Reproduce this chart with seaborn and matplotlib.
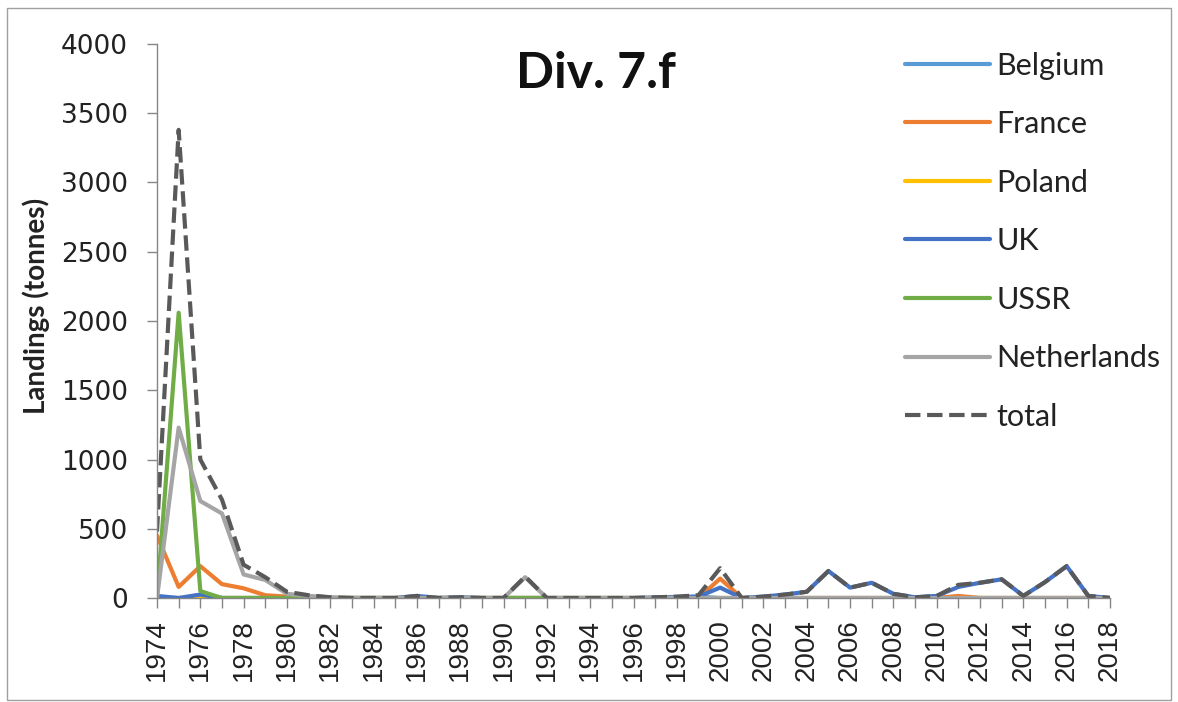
import matplotlib.pyplot as plt
import matplotlib.patches as patches
import seaborn as sns

# --- Data ---
YEARS = list(range(1974, 2019))

BELGIUM = [0, 0, 0, 0, 0, 0, 0, 0, 0, 0, 0, 0, 0, 0, 0, 0, 0, 0, 0, 0, 0, 0, 0,
           5, 8, 10, 0, 0, 0, 0, 0, 0, 0, 0, 0, 0, 0, 0, 0, 0, 0, 0, 0, 0, 0]
FRANCE = [450, 80, 230, 100, 70, 20, 10, 0, 0, 0, 0, 0, 0, 0, 0, 0, 0, 0, 0, 0, 0, 0, 0,
          0, 0, 0, 140, 0, 0, 0, 0, 0, 0, 0, 0, 0, 0, 15, 0, 0, 0, 0, 0, 0, 0]
POLAND = [0] * 45
UK = [15, 0, 25, 0, 0, 0, 0, 0, 0, 0, 0, 0, 15, 0, 5, 0, 0, 0, 0, 0, 0, 0, 0,
      0, 5, 10, 75, 0, 10, 25, 45, 195, 75, 110, 30, 5, 15, 80, 110, 135, 15, 115, 230, 15, 0]
USSR_YEARS = list(range(1974, 1993))
USSR = [0, 2060, 50, 0, 0, 0, 0, 0, 0, 0, 0, 0, 0, 0, 0, 0, 0, 0, 0]
NETHERLANDS = [0, 1230, 700, 610, 170, 130, 30, 15, 5, 0, 0, 0, 0, 0, 0, 0, 0, 150, 0, 0, 0, 0, 0,
               0, 0, 0, 0, 0, 0, 0, 0, 0, 0, 0, 0, 0, 0, 0, 0, 0, 0, 0, 0, 0, 0]
TOTAL = [480, 3380, 1000, 710, 240, 150, 45, 20, 5, 0, 0, 0, 15, 0, 5, 0, 0, 155, 0, 0, 0, 0, 0,
         5, 10, 20, 215, 0, 10, 25, 45, 195, 75, 110, 30, 5, 15, 95, 110, 135, 15, 115, 230, 15, 0]

SERIES = [
    ("Belgium", YEARS, BELGIUM, "#5B9BD5", "-"),
    ("France", YEARS, FRANCE, "#ED7D31", "-"),
    ("Poland", YEARS, POLAND, "#FFC000", "-"),
    ("UK", YEARS, UK, "#4472C4", "-"),
    ("USSR", USSR_YEARS, USSR, "#70AD47", "-"),
    ("Netherlands", YEARS, NETHERLANDS, "#A5A5A5", "-"),
    ("total", YEARS, TOTAL, "#595959", "--"),
]

# --- Plot ---
sns.set_style("white")
plt.rcParams['font.family'] = ['Lato', 'DejaVu Sans']

fig = plt.figure(figsize=(11.78, 7.02), dpi=100)
ax = fig.add_axes([157 / 1178, 1 - 598 / 702, (1110 - 157) / 1178, (598 - 44) / 702])

for name, xs, ys, color, ls in SERIES:
    sns.lineplot(x=xs, y=ys, color=color, linestyle=ls, linewidth=3, label=name, ax=ax)

ax.set_xlim(1974, 2018)
ax.set_ylim(0, 4000)

ax.set_xticks(range(1974, 2019, 2))
ax.set_xticks(range(1974, 2019), minor=True)
ax.set_xticklabels([str(y) for y in range(1974, 2019, 2)], rotation=90, fontsize=20,
                   color="#222222", family="Liberation Sans")
ax.set_yticks(range(0, 4001, 500))
ax.set_yticklabels([str(v) for v in range(0, 4001, 500)], fontsize=19, color="#222222",
                   family="DejaVu Sans")

ax.tick_params(axis="x", which="both", direction="out", length=7, width=1, color="#868686",
               bottom=True, pad=8)
ax.tick_params(axis="y", direction="out", length=7, width=1, color="#868686", left=True, pad=14)

for side in ["top", "right"]:
    ax.spines[side].set_visible(False)
for side in ["left", "bottom"]:
    ax.spines[side].set_color("#868686")
    ax.spines[side].set_linewidth(1)

ax.set_ylabel("Landings (tonnes)", fontsize=20, fontweight="bold", color="#222222")
ax.yaxis.set_label_coords((50 - 157) / 953, (598 - 306) / 554)
ax.set_xlabel("")

fig.text(596 / 1178, 1 - 73 / 702, "Div. 7.f", fontsize=36, fontweight="bold",
         ha="center", va="center", color="#111111")

leg = ax.legend(loc="upper left", bbox_to_anchor=(877 / 1178, 1 - 24 / 702),
                bbox_transform=fig.transFigure, frameon=False, fontsize=22,
                handlelength=2.8, handletextpad=0.2, labelspacing=1.0)
for t in leg.get_texts():
    t.set_color("#222222")

# thin frame around the whole picture
fig.patches.append(patches.Rectangle((7 / 1178, 2 / 702), 1164 / 1178, 692 / 702,
                                     transform=fig.transFigure, fill=False,
                                     edgecolor="#A0A0A0", linewidth=1))

fig.savefig("out.png", dpi=100)
